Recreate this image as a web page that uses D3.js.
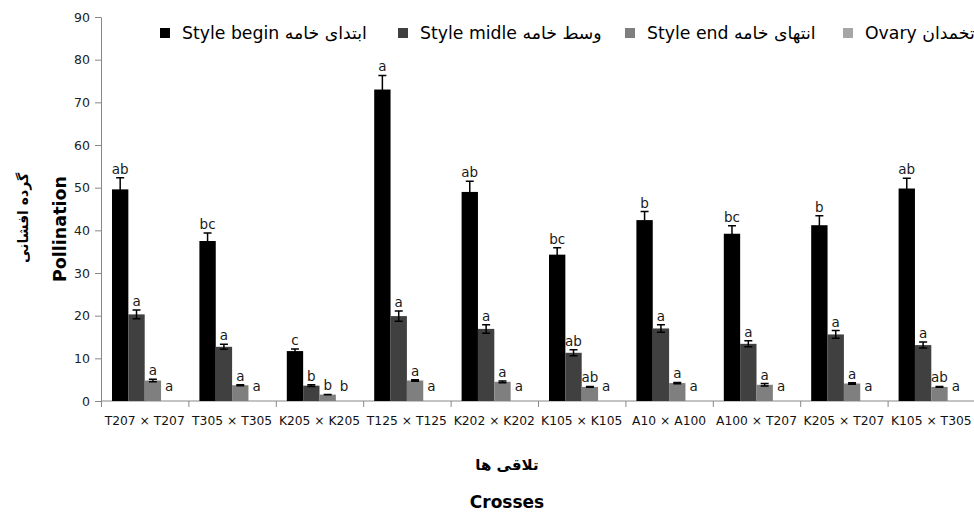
<!DOCTYPE html>
<html>
<head>
<meta charset="utf-8">
<script src="https://cdn.jsdelivr.net/npm/d3@7"></script>
<style>
  body { margin: 0; background: #fff; }
  text { font-family: "DejaVu Sans", sans-serif; }
</style>
</head>
<body>
<svg width="974" height="512"></svg>
<script>
// data
var categories = ["T207 × T207", "T305 × T305", "K205 × K205", "T125 × T125", "K202 × K202",
                  "K105 × K105", "A10 × A100", "A100 × T207", "K205 × T207", "K105 × T305"];
var seriesNames = ["Style begin ابتدای خامه", "Style midle وسط خامه", "Style end انتهای خامه", "Ovary تخمدان"];
var styleBegin    = [49.6, 37.5, 11.7, 73.0, 49.0, 34.3, 42.4, 39.2, 41.2, 49.8];
var styleBeginErr = [2.7, 1.9, 0.5, 3.3, 2.5, 1.6, 2.0, 1.9, 2.2, 2.4];
var styleMidle    = [20.3, 12.7, 3.6, 19.9, 16.9, 11.3, 17.0, 13.4, 15.6, 13.1];
var styleMidleErr = [1.0, 0.6, 0.2, 1.2, 1.0, 0.7, 0.9, 0.7, 0.9, 0.7];
var styleEnd      = [4.8, 3.7, 1.5, 4.8, 4.5, 3.3, 4.2, 3.8, 4.1, 3.3];
var styleEndErr   = [0.3, 0.1, 0.05, 0.2, 0.2, 0.1, 0.15, 0.3, 0.2, 0.1];
var ovary         = [0, 0, 0, 0, 0, 0, 0, 0, 0, 0];
var ovaryErr      = [0, 0, 0, 0, 0, 0, 0, 0, 0, 0];
var beginLetters  = ["ab", "bc", "c", "a", "ab", "bc", "b", "bc", "b", "ab"];
var midleLetters  = ["a", "a", "b", "a", "a", "ab", "a", "a", "a", "a"];
var endLetters    = ["a", "a", "b", "a", "a", "ab", "a", "a", "a", "ab"];
var ovaryLetters  = ["a", "a", "b", "a", "a", "a", "a", "a", "a", "a"];
var yTicks = [0, 10, 20, 30, 40, 50, 60, 70, 80, 90];

var colors = ["#000000", "#404040", "#7f7f7f", "#a6a6a6"];
var axisColor = "#878787";

var series = [
  {vals: styleBegin, err: styleBeginErr, lab: beginLetters},
  {vals: styleMidle, err: styleMidleErr, lab: midleLetters},
  {vals: styleEnd, err: styleEndErr, lab: endLetters},
  {vals: ovary, err: ovaryErr, lab: ovaryLetters}
];

var svg = d3.select("svg");

var y = d3.scaleLinear().domain([0, 90]).range([401, 17]);
var x = d3.scaleBand().domain(categories).range([101, 975]).padding(0);
var inner = d3.scaleBand().domain(d3.range(4)).range([11, x.bandwidth() - 11]).padding(0);

// y axis
var yAxis = svg.append("g")
    .attr("transform", "translate(101,0)")
    .call(d3.axisLeft(y).tickValues(yTicks).tickSize(6).tickSizeOuter(0).tickPadding(5));
yAxis.select(".domain").attr("stroke", axisColor);
yAxis.selectAll(".tick line").attr("stroke", axisColor);
yAxis.selectAll(".tick text")
    .attr("font-family", "DejaVu Sans")
    .attr("font-size", 12.5)
    .attr("fill", "#222");

// x axis line + boundary ticks
svg.append("line")
    .attr("x1", 101).attr("x2", 974)
    .attr("y1", y(0)).attr("y2", y(0))
    .attr("stroke", axisColor);
svg.append("g").selectAll("line")
    .data(categories)
    .enter().append("line")
    .attr("x1", function(d) { return x(d) + 0.5; })
    .attr("x2", function(d) { return x(d) + 0.5; })
    .attr("y1", y(0)).attr("y2", y(0) + 6)
    .attr("stroke", axisColor);
svg.append("g").selectAll("text")
    .data(categories)
    .enter().append("text")
    .attr("x", function(d) { return x(d) + x.bandwidth() / 2; })
    .attr("y", 425)
    .attr("text-anchor", "middle")
    .attr("font-size", 12.3)
    .attr("fill", "#111")
    .text(function(d) { return d; });

// bars, error bars and letters
series.forEach(function(s, si) {
  var g = svg.append("g");
  categories.forEach(function(c, ci) {
    var v = s.vals[ci], e = s.err[ci];
    var bx = x(c) + inner(si), bw = inner.bandwidth();
    var cx = bx + bw / 2;
    if (v > 0) {
      g.append("rect")
        .attr("x", bx).attr("y", y(v))
        .attr("width", bw).attr("height", y(0) - y(v))
        .attr("fill", colors[si]);
      g.append("path")
        .attr("d", "M" + cx + "," + y(v + e) + "V" + y(v - e) +
                   "M" + (cx - 4) + "," + y(v + e) + "H" + (cx + 4) +
                   "M" + (cx - 4) + "," + y(v - e) + "H" + (cx + 4))
        .attr("stroke", "#000").attr("stroke-width", 1.5).attr("fill", "none");
    }
    var ly = Math.min(y(v + e) - 4, y(0) - 10);
    g.append("text")
      .attr("x", cx).attr("y", ly)
      .attr("text-anchor", "middle")
      .attr("font-size", 13.5)
      .attr("fill", "#1a1a1a")
      .text(s.lab[ci]);
  });
});

// legend
var legendX = [160, 398, 625, 843];
var legend = svg.append("g");
seriesNames.forEach(function(name, i) {
  legend.append("rect")
    .attr("x", legendX[i]).attr("y", 28)
    .attr("width", 10).attr("height", 10)
    .attr("fill", colors[i]);
  legend.append("text")
    .attr("x", legendX[i] + 22).attr("y", 39)
    .attr("font-size", 17.3)
    .attr("fill", "#000")
    .text(name);
});

// axis titles
svg.append("text")
    .attr("transform", "translate(66,229) rotate(-90)")
    .attr("text-anchor", "middle")
    .attr("font-size", 17.5).attr("font-weight", "bold")
    .text("Pollination");
svg.append("text")
    .attr("transform", "translate(28,218) rotate(-90)")
    .attr("text-anchor", "middle")
    .attr("font-size", 14).attr("font-weight", "bold")
    .text("گرده افشانی");
svg.append("text")
    .attr("x", 507).attr("y", 470)
    .attr("text-anchor", "middle")
    .attr("font-size", 15).attr("font-weight", "bold")
    .text("تلاقی ها");
svg.append("text")
    .attr("x", 507).attr("y", 508)
    .attr("text-anchor", "middle")
    .attr("font-size", 17).attr("font-weight", "bold")
    .text("Crosses");
</script>
</body>
</html>
